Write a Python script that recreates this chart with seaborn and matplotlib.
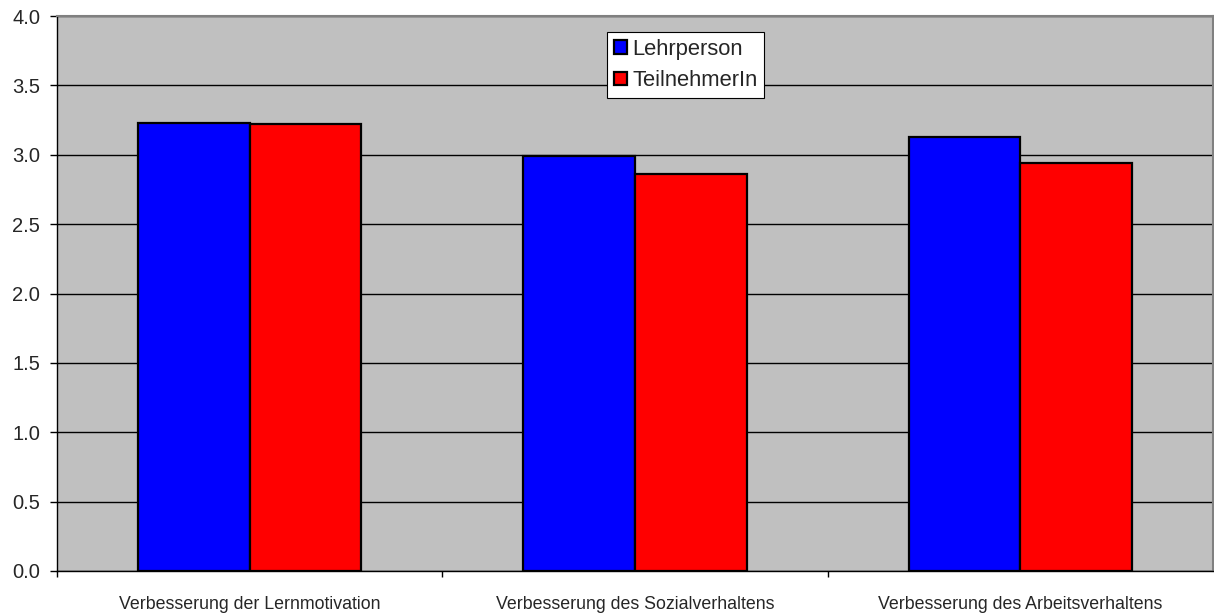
import numpy as np
import pandas as pd
import seaborn as sns
import matplotlib.pyplot as plt
from matplotlib.ticker import FormatStrFormatter

categories = ['Verbesserung der Lernmotivation', 'Verbesserung des Sozialverhaltens',
              'Verbesserung des Arbeitsverhaltens']
series = ['Lehrperson', 'TeilnehmerIn']
lehrperson = [3.23, 2.99, 3.13]
teilnehmer = [3.225, 2.86, 2.94]
colors = ['#0000FF', '#FF0000']

df = pd.DataFrame({
    'Kategorie': categories * 2,
    'Gruppe': [series[0]] * 3 + [series[1]] * 3,
    'Wert': lehrperson + teilnehmer,
})

sns.set_style('white')
plt.rcParams['font.family'] = ['Liberation Sans', 'DejaVu Sans']

fig = plt.figure(figsize=(12.14, 6.15), dpi=100)
ax = fig.add_axes([57 / 1214, 44 / 615, 1156 / 1214, 555 / 615])
ax.set_facecolor('#C0C0C0')

sns.barplot(data=df, x='Kategorie', y='Wert', hue='Gruppe', palette=colors,
            saturation=1, width=0.58, edgecolor='black', linewidth=1.6, ax=ax, zorder=3)

ax.set_ylim(0, 4)
ax.set_xlim(-0.5, 2.5)
ax.set_yticks(np.arange(0, 4.01, 0.5))
ax.yaxis.set_major_formatter(FormatStrFormatter('%.1f'))
ax.yaxis.grid(True, color='black', linewidth=1, zorder=1)
ax.set_axisbelow(True)
ax.set_xlabel('')
ax.set_ylabel('')

ax.set_xticks([0, 1, 2])
ax.set_xticklabels(categories)
ax.set_xticks([-0.5, 0.5, 1.5], minor=True)
ax.tick_params(axis='x', which='major', bottom=True, length=0, pad=18, labelsize=12.8)
ax.tick_params(axis='x', which='minor', bottom=True, length=4.5, width=1, color='black', direction='out')
ax.tick_params(axis='y', left=True, length=5, width=1, color='black', direction='out', labelsize=14.5, pad=7)

for s in ['left', 'bottom']:
    ax.spines[s].set_color('black')
    ax.spines[s].set_linewidth(1)
for s in ['top', 'right']:
    ax.spines[s].set_color('#808080')
    ax.spines[s].set_linewidth(1.5)

leg = ax.legend(loc='upper left', bbox_to_anchor=(0.476, 0.971), borderaxespad=0,
                fontsize=15.8, handlelength=0.6, handleheight=0.6, handletextpad=0.25,
                labelspacing=0.48, fancybox=False, framealpha=1, edgecolor='black',
                borderpad=0.3)
leg.get_frame().set_linewidth(0.8)

fig.savefig('out.png', dpi=100)
